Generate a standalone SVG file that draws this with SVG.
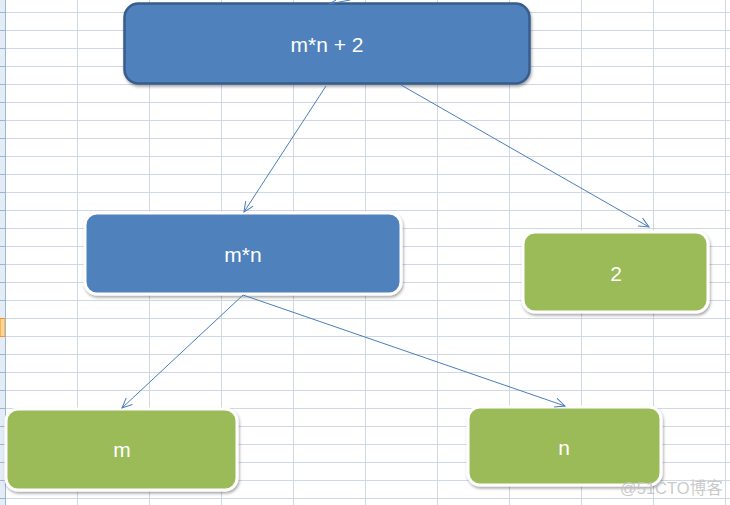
<svg xmlns="http://www.w3.org/2000/svg" width="730" height="505" viewBox="0 0 730 505">
  <defs>
    <style>
      .grid line { stroke: #d0d7e5; stroke-width: 1; }
      .band line { stroke: #9eb6ce; stroke-width: 1; }
      .blue { fill: #4f81bd; }
      .green { fill: #9bbb59; }
      .halo { stroke: #ffffff; stroke-width: 3; }
      .lbl { font-family: "Liberation Sans", Arial, sans-serif; font-size: 21px; fill: #ffffff; text-anchor: middle; }
      .conn line, .conn polyline { stroke: #4a7ebb; stroke-width: 1; fill: none; }
    </style>
    <marker id="arr" viewBox="0 0 12 12" refX="11" refY="6" markerWidth="12" markerHeight="12" markerUnits="userSpaceOnUse" orient="auto">
      <polyline points="1,1.5 11,6 1,10.5" fill="none" stroke="#4a7ebb" stroke-width="1"/>
    </marker>
    <filter id="sh" x="-10%" y="-10%" width="120%" height="130%">
      <feDropShadow dx="1" dy="2" stdDeviation="1.5" flood-color="#000000" flood-opacity="0.35"/>
    </filter>
  </defs>

  <rect x="0" y="0" width="730" height="505" fill="#ffffff"/>
  <g id="grid" class="grid">
    <line x1="0" y1="12.5" x2="730" y2="12.5"/>
    <line x1="0" y1="30.5" x2="730" y2="30.5"/>
    <line x1="0" y1="48.5" x2="730" y2="48.5"/>
    <line x1="0" y1="66.5" x2="730" y2="66.5"/>
    <line x1="0" y1="84.5" x2="730" y2="84.5"/>
    <line x1="0" y1="102.5" x2="730" y2="102.5"/>
    <line x1="0" y1="120.5" x2="730" y2="120.5"/>
    <line x1="0" y1="138.5" x2="730" y2="138.5"/>
    <line x1="0" y1="156.5" x2="730" y2="156.5"/>
    <line x1="0" y1="174.5" x2="730" y2="174.5"/>
    <line x1="0" y1="192.5" x2="730" y2="192.5"/>
    <line x1="0" y1="210.5" x2="730" y2="210.5"/>
    <line x1="0" y1="228.5" x2="730" y2="228.5"/>
    <line x1="0" y1="246.5" x2="730" y2="246.5"/>
    <line x1="0" y1="264.5" x2="730" y2="264.5"/>
    <line x1="0" y1="282.5" x2="730" y2="282.5"/>
    <line x1="0" y1="300.5" x2="730" y2="300.5"/>
    <line x1="0" y1="318.5" x2="730" y2="318.5"/>
    <line x1="0" y1="336.5" x2="730" y2="336.5"/>
    <line x1="0" y1="354.5" x2="730" y2="354.5"/>
    <line x1="0" y1="372.5" x2="730" y2="372.5"/>
    <line x1="0" y1="390.5" x2="730" y2="390.5"/>
    <line x1="0" y1="408.5" x2="730" y2="408.5"/>
    <line x1="0" y1="426.5" x2="730" y2="426.5"/>
    <line x1="0" y1="444.5" x2="730" y2="444.5"/>
    <line x1="0" y1="462.5" x2="730" y2="462.5"/>
    <line x1="0" y1="480.5" x2="730" y2="480.5"/>
    <line x1="0" y1="498.5" x2="730" y2="498.5"/>
    <line x1="77.5" y1="0" x2="77.5" y2="505"/>
    <line x1="149.5" y1="0" x2="149.5" y2="505"/>
    <line x1="221.5" y1="0" x2="221.5" y2="505"/>
    <line x1="293.5" y1="0" x2="293.5" y2="505"/>
    <line x1="365.5" y1="0" x2="365.5" y2="505"/>
    <line x1="437.5" y1="0" x2="437.5" y2="505"/>
    <line x1="509.5" y1="0" x2="509.5" y2="505"/>
    <line x1="581.5" y1="0" x2="581.5" y2="505"/>
    <line x1="653.5" y1="0" x2="653.5" y2="505"/>
    <line x1="725.5" y1="0" x2="725.5" y2="505"/>
  </g>
  <g id="rowband" class="band">
    <rect x="0" y="0" width="5" height="505" fill="#e4ecf7"/>
    <rect x="0" y="318.5" width="5" height="18" fill="#ffd58d" stroke="#f29436" stroke-width="1"/>
    <line x1="0" y1="12.5" x2="5" y2="12.5"/>
    <line x1="0" y1="30.5" x2="5" y2="30.5"/>
    <line x1="0" y1="48.5" x2="5" y2="48.5"/>
    <line x1="0" y1="66.5" x2="5" y2="66.5"/>
    <line x1="0" y1="84.5" x2="5" y2="84.5"/>
    <line x1="0" y1="102.5" x2="5" y2="102.5"/>
    <line x1="0" y1="120.5" x2="5" y2="120.5"/>
    <line x1="0" y1="138.5" x2="5" y2="138.5"/>
    <line x1="0" y1="156.5" x2="5" y2="156.5"/>
    <line x1="0" y1="174.5" x2="5" y2="174.5"/>
    <line x1="0" y1="192.5" x2="5" y2="192.5"/>
    <line x1="0" y1="210.5" x2="5" y2="210.5"/>
    <line x1="0" y1="228.5" x2="5" y2="228.5"/>
    <line x1="0" y1="246.5" x2="5" y2="246.5"/>
    <line x1="0" y1="264.5" x2="5" y2="264.5"/>
    <line x1="0" y1="282.5" x2="5" y2="282.5"/>
    <line x1="0" y1="300.5" x2="5" y2="300.5"/>
    <line x1="0" y1="354.5" x2="5" y2="354.5"/>
    <line x1="0" y1="372.5" x2="5" y2="372.5"/>
    <line x1="0" y1="390.5" x2="5" y2="390.5"/>
    <line x1="0" y1="408.5" x2="5" y2="408.5"/>
    <line x1="0" y1="426.5" x2="5" y2="426.5"/>
    <line x1="0" y1="444.5" x2="5" y2="444.5"/>
    <line x1="0" y1="462.5" x2="5" y2="462.5"/>
    <line x1="0" y1="480.5" x2="5" y2="480.5"/>
    <line x1="0" y1="498.5" x2="5" y2="498.5"/>
    <line x1="5.5" y1="0" x2="5.5" y2="505" stroke="#9eb6ce"/>
  </g>

  <g id="n-root">
    <rect x="124.5" y="3.5" width="405" height="80" rx="14" class="blue" stroke="#385d8a" stroke-width="2.5" filter="url(#sh)"/>
    <text x="327" y="52" class="lbl">m*n + 2</text>
  </g>
  <g id="n-mn">
    <rect x="85" y="213" width="316" height="81" rx="12" class="blue halo" filter="url(#sh)"/>
    <text x="243" y="262" class="lbl">m*n</text>
  </g>
  <g id="n-2">
    <rect x="523" y="232" width="185" height="80" rx="12" class="green halo" filter="url(#sh)"/>
    <text x="616" y="281" class="lbl">2</text>
  </g>
  <g id="n-m">
    <rect x="6" y="409" width="231" height="81" rx="12" class="green halo" filter="url(#sh)"/>
    <text x="122" y="457" class="lbl">m</text>
  </g>
  <g id="n-n">
    <rect x="468" y="407" width="193" height="78" rx="12" class="green halo" filter="url(#sh)"/>
    <text x="564" y="455" class="lbl">n</text>
  </g>

  <g id="connectors" class="conn">
    <polyline points="336,0 329,4 350,0"/>
    <line x1="326" y1="86" x2="244" y2="212" marker-end="url(#arr)"/>
    <line x1="401" y1="85" x2="649" y2="227" marker-end="url(#arr)"/>
    <line x1="243" y1="295" x2="122" y2="408" marker-end="url(#arr)"/>
    <line x1="243" y1="295" x2="565" y2="406" marker-end="url(#arr)"/>
  </g>

  <text x="620" y="494" font-family="'Liberation Sans', 'Noto Sans CJK SC', sans-serif" font-size="16.5" fill="#c0c0c0" fill-opacity="0.85">@51CTO博客</text>
</svg>
